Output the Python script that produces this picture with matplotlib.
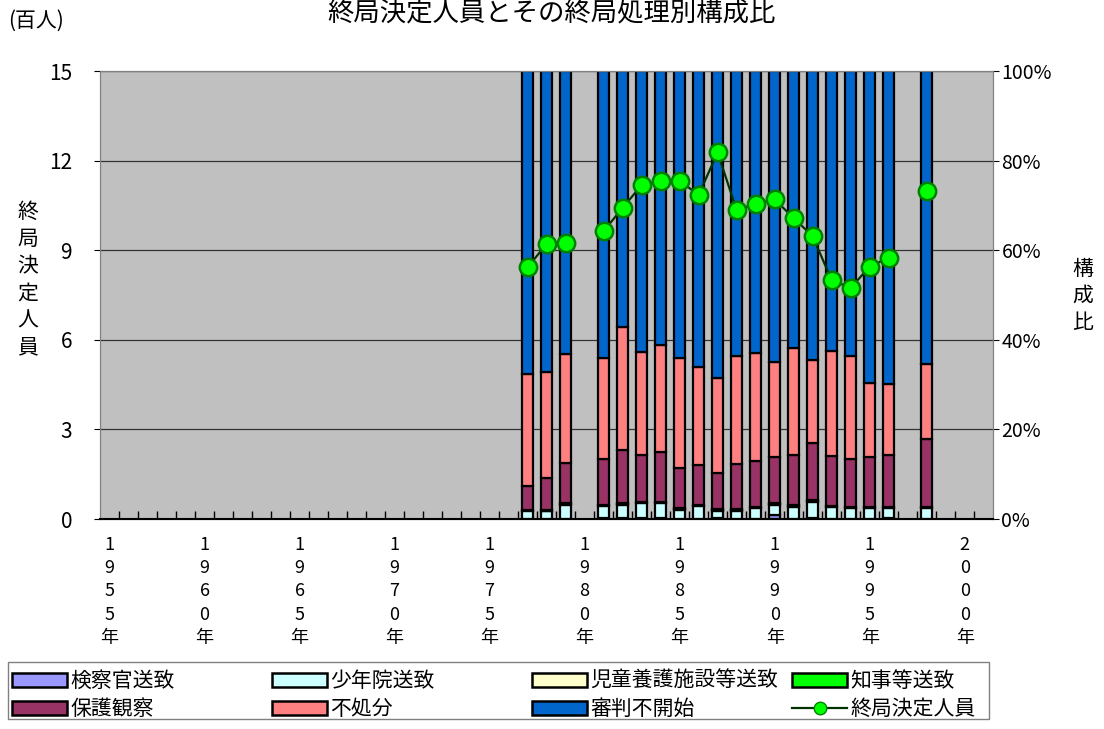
import matplotlib
matplotlib.use('Agg')
import matplotlib.pyplot as plt
from matplotlib.patches import Patch, Rectangle
from matplotlib.lines import Line2D
import numpy as np
import pandas as pd

plt.rcParams['font.family'] = ['Noto Sans CJK JP', 'DejaVu Sans']

# Data
years = [1977, 1978, 1979, 1981, 1982, 1983, 1984, 1985, 1986, 1987,
         1988, 1989, 1990, 1991, 1992, 1993, 1994, 1995, 1996, 1998]
total = [8.43, 9.21, 9.26, 9.64, 10.42, 11.18, 11.33, 11.33, 10.85, 12.28,
         10.34, 10.55, 10.70, 10.08, 9.47, 8.00, 7.74, 8.45, 8.75, 10.99]
kensatsu = [0, 0, 0, 0.3, 0.3, 0.3, 0.3, 0.1, 0, 0.2,
            0, 0, 0.8, 0, 0.3, 0, 0, 0, 0.3, 0]
shonenin = [1.8, 1.7, 3.2, 2.6, 2.9, 3.3, 3.3, 2.0, 2.9, 1.7,
            1.9, 2.4, 2.4, 2.8, 3.6, 2.7, 2.4, 2.4, 2.1, 2.4]
jido = [0.2] * 20
chiji = [0.1] * 20
hogo = [5.3, 7.1, 9.1, 10.2, 11.9, 10.4, 11.1, 9.1, 8.9, 8.1,
        10.1, 10.2, 10.3, 11.2, 12.7, 11.1, 10.7, 11.1, 11.6, 15.2]
fushobun = [24.9, 23.8, 24.2, 22.6, 27.5, 22.9, 23.8, 24.5, 21.9, 21.2,
            24.2, 24.2, 21.3, 23.8, 18.7, 23.5, 23.0, 16.6, 15.8, 16.6]
shinpan = [67.7, 67.1, 63.2, 64.0, 57.1, 62.8, 61.2, 64.0, 66.0, 68.5,
           63.5, 62.9, 64.9, 61.9, 64.4, 62.4, 63.6, 69.6, 69.9, 65.5]

all_years = list(range(1955, 2002))
label_years = list(range(1955, 2001, 5))

series = ['検察官送致', '少年院送致', '児童養護施設等送致', '知事等送致',
          '保護観察', '不処分', '審判不開始']
colors = ['#9999FF', '#CCFFFF', '#FFFFCC', '#00FF00',
          '#993366', '#FF8080', '#0066CC']

df = pd.DataFrame({'検察官送致': kensatsu, '少年院送致': shonenin,
                   '児童養護施設等送致': jido, '知事等送致': chiji,
                   '保護観察': hogo, '不処分': fushobun, '審判不開始': shinpan,
                   'total': total}, index=years)
full = df.reindex(all_years)

fig = plt.figure(figsize=(11.04, 7.29), dpi=100)
ax2 = fig.add_axes([0.0906, 0.288, 0.809, 0.6145])
ax = ax2.twinx()
ax.yaxis.tick_left()
ax2.yaxis.tick_right()
ax.set_zorder(ax2.get_zorder() + 1)
ax.patch.set_visible(False)
ax2.set_facecolor('#C0C0C0')

xpos = np.array([all_years.index(y) for y in years])
xall = np.arange(len(all_years))

# stacked bars (percent, right axis)
bottom = np.zeros(len(years))
for name, c in zip(series, colors):
    vals = df[name].values
    ax2.bar(xpos, vals, bottom=bottom, width=0.55, color=c,
            edgecolor='black', linewidth=1.6, zorder=2)
    bottom += vals

ax2.set_ylim(0, 100)
ax2.set_yticks([0, 20, 40, 60, 80, 100])
ax2.set_yticklabels(['0%', '20%', '40%', '60%', '80%', '100%'], fontsize=14)
ax2.yaxis.grid(True, color='#333333', linewidth=0.9)
ax2.set_axisbelow(True)

# line (left axis)
ax.plot(xall, full['total'].values, color='#003300', linewidth=1.6,
        marker='o', markersize=12.5, markerfacecolor='#00FF00',
        markeredgecolor='#008000', markeredgewidth=1.8)
ax.set_ylim(0, 15)
ax.set_yticks([0, 3, 6, 9, 12, 15])
ax.tick_params(axis='y', labelsize=15, length=4, pad=16)
ax2.tick_params(axis='y', length=4, pad=2)

# x axis: labels every 5 years, short inward ticks between years
ax2.set_xlim(-0.5, len(all_years) - 0.5)
ax2.set_xticks([all_years.index(y) for y in label_years])
ax2.set_xticklabels(['\n'.join(str(y)) + '\n年' for y in label_years],
                    fontsize=13, linespacing=1.38)
ax2.tick_params(axis='x', which='major', length=0, pad=12)
ax2.set_xticks(xall[1:] - 0.5, minor=True)
ax2.tick_params(axis='x', which='minor', direction='in', length=6,
                width=1, color='black')

for sp in ['left', 'right', 'top']:
    ax.spines[sp].set_color('#808080')
    ax2.spines[sp].set_color('#808080')
ax.spines['bottom'].set_color('black')
ax.spines['bottom'].set_linewidth(1.5)

fig.text(0.025, 0.616, '終\n局\n決\n定\n人\n員', fontsize=15, linespacing=1.3,
         ha='center', va='center')
fig.text(0.981, 0.594, '構\n成\n比', fontsize=15, linespacing=1.3,
         ha='center', va='center')
fig.text(0.007, 0.972, '(百人)', fontsize=15, ha='left', va='center')
fig.text(0.5, 0.999, '終局決定人員とその終局処理別構成比', fontsize=19,
         ha='center', va='top')

# legend: four columns placed like the original
handles = [Patch(facecolor=c, edgecolor='black', linewidth=1.8) for c in colors]
handles.append(Line2D([], [], color='#003300', linewidth=1.6, marker='o',
                      markersize=9, markerfacecolor='#00FF00',
                      markeredgecolor='#008000'))
labels = series + ['終局決定人員']
col_x = [12, 272, 532, 792]
for j in range(4):
    fig.legend([handles[j], handles[j + 4]], [labels[j], labels[j + 4]],
               loc='upper left', bbox_to_anchor=(col_x[j] / 1104, 0.081),
               bbox_transform=fig.transFigure, fontsize=15, frameon=False,
               handlelength=2.65, handleheight=0.65, handletextpad=0.15,
               labelspacing=0.3, borderpad=0, borderaxespad=0)
fig.patches.append(Rectangle((8 / 1104, 1 - 719 / 729), 981 / 1104, 57 / 729,
                             transform=fig.transFigure, fill=False,
                             edgecolor='#808080', linewidth=1.0))

fig.savefig('out.png', dpi=100)
